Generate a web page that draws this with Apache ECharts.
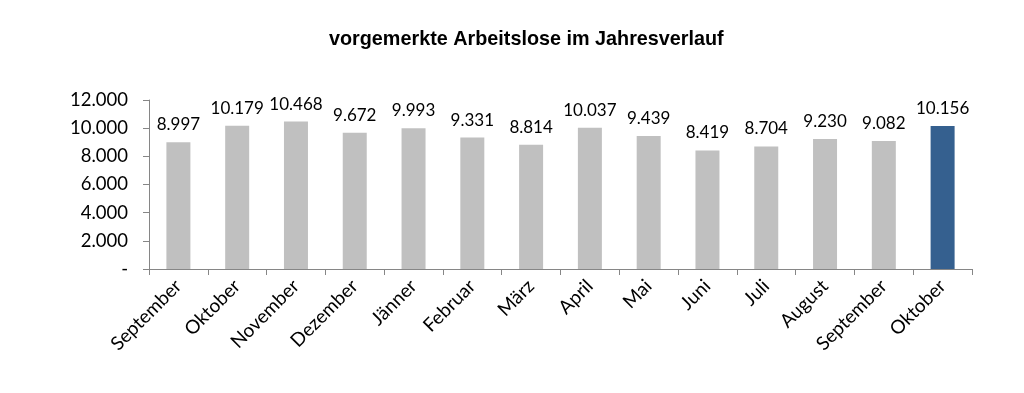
<!DOCTYPE html>
<html><head><meta charset="utf-8">
<script src="https://cdn.jsdelivr.net/npm/echarts@6/dist/echarts.min.js"></script>
<style>html,body{margin:0;padding:0;background:#fff}#c{width:1024px;height:393px}</style>
</head><body><div id="c"></div>
<script>
const categories = ['September','Oktober','November','Dezember','Jänner','Februar','März','April','Mai','Juni','Juli','August','September','Oktober'];
const values = [8997,10179,10468,9672,9993,9331,8814,10037,9439,8419,8704,9230,9082,10156];
const highlightIndex = 13;
const title = 'vorgemerkte Arbeitslose im Jahresverlauf';

const fmt = v => v === 0 ? '-' : (v/1000).toFixed(3);
const chart = echarts.init(document.getElementById('c'));
chart.setOption({
  animation:false,
  title:{text:title,left:324,top:25,textStyle:{fontFamily:'Liberation Sans',fontWeight:'bold',fontSize:19.8,color:'#000'}},
  grid:{left:149,right:52,top:100,bottom:124},
  xAxis:{type:'category',data:categories,
    axisLine:{lineStyle:{color:'#868686',width:1}},
    axisTick:{show:true,alignWithLabel:false,length:6,lineStyle:{color:'#868686'}},
    axisLabel:{rotate:45,interval:0,fontFamily:'Lato',fontSize:19,color:'#000',margin:14}},
  yAxis:{type:'value',min:0,max:12000,interval:2000,
    axisLine:{show:true,lineStyle:{color:'#868686'}},
    axisTick:{show:true,length:6,lineStyle:{color:'#868686'}},
    splitLine:{show:false},
    axisLabel:{fontFamily:'Lato',fontSize:18.5,color:'#000',margin:21,formatter:fmt}},
  series:[{type:'bar',barWidth:24,
    data:values.map((v,i)=>({value:v,itemStyle:{color:i===highlightIndex?'#35608f':'#c0c0c0'}})),
    label:{show:true,position:'top',distance:9,fontFamily:'Lato',fontSize:17,color:'#000',formatter:p=>fmt(p.value)}}]
});
</script></body></html>
